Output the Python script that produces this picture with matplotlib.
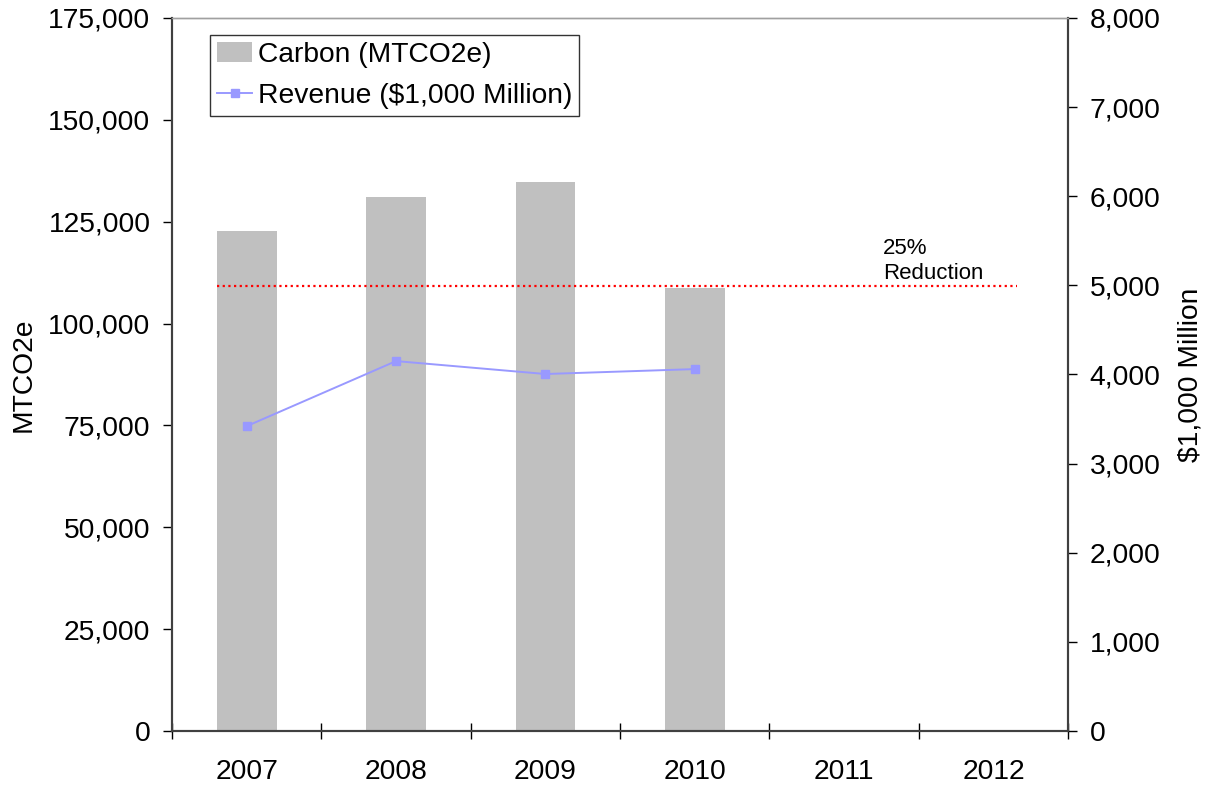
import numpy as np
import matplotlib
matplotlib.use("Agg")
import matplotlib.pyplot as plt
from matplotlib.ticker import FuncFormatter

plt.rcParams['font.family'] = ['Liberation Sans', 'DejaVu Sans']

# data
years = ['2007', '2008', '2009', '2010', '2011', '2012']
carbon = [122700, 131000, 134700, 108700]          # MTCO2e
revenue = [3420, 4150, 4005, 4060]                 # $1,000 Million
target = 109300                                    # 25% reduction line

x = np.arange(len(years))
fs = 20.3

fig = plt.figure(figsize=(12.07, 7.87), dpi=100)
ax = fig.add_axes([0.1425, 0.0712, 0.7425, 0.9060])
ax2 = ax.twinx()

ax.bar(x[:len(carbon)], carbon, width=0.4, color='#C0C0C0', zorder=2,
       label='Carbon (MTCO2e)')
ax.plot([-0.2, len(years) - 0.84], [target, target], color='#FF0000',
        linestyle=(0, (1, 1.55)), linewidth=1.6, zorder=3)
ax.text(4.26, target + 500, '25%\nReduction', fontsize=16,
        ha='left', va='bottom', linespacing=1.2)

ln, = ax2.plot(x[:len(revenue)], revenue, color='#9999FF', marker='s',
               markersize=6, linewidth=1.4, label='Revenue ($1,000 Million)')

ax.set_xlim(-0.5, len(years) - 0.5)
ax.set_ylim(0, 175000)
ax2.set_ylim(0, 8000)
ax.set_yticks(np.arange(0, 175001, 25000))
ax2.set_yticks(np.arange(0, 8001, 1000))
fmt = FuncFormatter(lambda v, p: f'{int(v):,}')
ax.yaxis.set_major_formatter(fmt)
ax2.yaxis.set_major_formatter(fmt)

ax.set_xticks(x)
ax.set_xticklabels(years)
ax.set_xticks(np.arange(-0.5, len(years), 1), minor=True)
ax.tick_params(axis='x', which='major', length=0, pad=20, labelsize=fs)
ax.tick_params(axis='x', which='minor', direction='inout', length=12, width=1)
ax.tick_params(axis='y', direction='out', length=6.5, width=1, pad=9,
               labelsize=fs)
ax2.tick_params(axis='y', direction='out', length=6.5, width=1, pad=9,
                labelsize=fs)

for a in (ax, ax2):
    a.spines['top'].set_color('#A0A0A0')
    a.spines['top'].set_linewidth(1)
    for s in ('left', 'right', 'bottom'):
        a.spines[s].set_color('#404040')
        a.spines[s].set_linewidth(1.5)

ax.set_ylabel('MTCO2e', fontsize=fs, labelpad=8)
ax2.set_ylabel('$1,000 Million', fontsize=fs, labelpad=12)

bars = ax.containers[0]
leg = ax.legend([bars, ln], ['Carbon (MTCO2e)', 'Revenue ($1,000 Million)'],
                loc='upper left', bbox_to_anchor=(0.0424, 0.976), fontsize=fs,
                frameon=True, fancybox=False, edgecolor='black',
                handlelength=1.25, handletextpad=0.2, borderpad=0.25,
                labelspacing=0.52, borderaxespad=0)
leg.get_frame().set_linewidth(1)

fig.savefig('out.png', dpi=100)
